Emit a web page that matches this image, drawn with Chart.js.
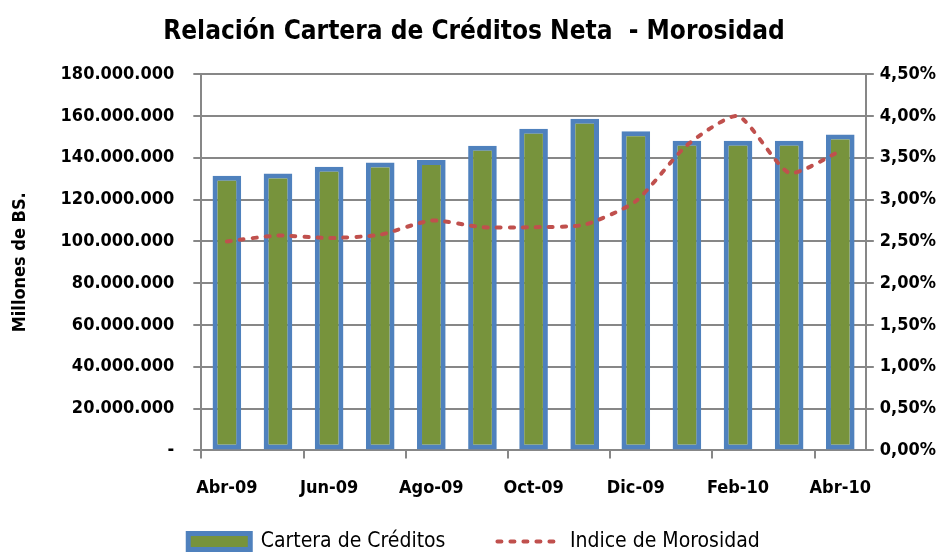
<!DOCTYPE html>
<html>
<head>
<meta charset="utf-8">
<script src="https://cdn.jsdelivr.net/npm/chart.js@4"></script>
<style>
  html, body { margin: 0; padding: 0; background: #fff; }
  #wrap { width: 946px; height: 552px; }
</style>
</head>
<body>
<div id="wrap"><canvas id="chart"></canvas></div>
<script>
const months = ['Abr-09', 'May-09', 'Jun-09', 'Jul-09', 'Ago-09', 'Sep-09', 'Oct-09',
  'Nov-09', 'Dic-09', 'Ene-10', 'Feb-10', 'Mar-10', 'Abr-10']
const cartera = [131400000, 132500000, 135700000, 137800000, 139000000, 145800000, 153900000,
  158700000, 152700000, 148200000, 148200000, 148200000, 151100000]
const morosidad = [2.50, 2.57, 2.54, 2.58, 2.75, 2.67, 2.67, 2.70, 2.98, 3.65, 4.00, 3.32, 3.58]

const FONT = "'Liberation Sans Narrow', 'DejaVu Sans Condensed', sans-serif"
const gridColor = '#878787'
const lineDash = [4, 9]

document.addEventListener('DOMContentLoaded', function () {
  new Chart(document.getElementById('chart'), {
    data: {
      labels: months,
      datasets: [
        {
          type: 'line',
          label: 'Indice de Morosidad',
          data: morosidad,
          yAxisID: 'y2',
          borderColor: '#C0504D',
          backgroundColor: '#C0504D',
          borderWidth: 4,
          borderDash: lineDash,
          borderCapStyle: 'round',
          tension: 0.2,
          pointRadius: 0,
          pointStyle: 'line',
          order: 0,
        },
        {
          type: 'bar',
          label: 'Cartera de Créditos',
          data: cartera,
          yAxisID: 'y',
          backgroundColor: '#77933C',
          borderColor: '#4F81BD',
          borderWidth: 5,
          borderSkipped: false,
          barPercentage: 0.56,
          categoryPercentage: 1,
          pointStyle: 'rect',
          order: 1,
        },
      ],
    },
    options: {
      responsive: true,
      maintainAspectRatio: false,
      animation: false,
      layout: { padding: { left: 6, right: 4, top: 4, bottom: -10 } },
      plugins: {
        title: {
          display: true,
          text: 'Relación Cartera de Créditos Neta  - Morosidad',
          color: '#000',
          font: { family: FONT, size: 26, weight: 'bold' },
          padding: { top: 13, bottom: 26 },
        },
        legend: {
          position: 'bottom',
          reverse: true,
          labels: {
            color: '#000',
            font: { family: FONT, size: 21 },
            usePointStyle: true,
            pointStyleWidth: 62,
            boxHeight: 16,
            padding: 4,
            generateLabels: (chart) => {
              const items = Chart.defaults.plugins.legend.labels.generateLabels(chart)
              items.forEach((it) => {
                if (it.datasetIndex === 1) it.text += '        '
                if (it.datasetIndex === 0) {
                  it.lineDash = lineDash
                  it.lineCap = 'round'
                  it.lineWidth = 4
                }
              })
              return items
            },
          },
        },
        tooltip: { enabled: false },
      },
      scales: {
        x: {
          offset: true,
          afterFit: (s) => { s.height += 9 },
          grid: {
            offset: true,
            drawOnChartArea: false,
            tickLength: 8,
            lineWidth: 2,
            color: (c) => (c.index % 2 === 0 ? gridColor : 'rgba(0,0,0,0)'),
          },
          border: { color: gridColor, width: 2 },
          ticks: {
            autoSkip: false,
            maxRotation: 0,
            color: '#000',
            padding: 19,
            font: { family: FONT, size: 18, weight: 'bold' },
            callback: (v, i) => (i % 2 === 0 ? months[i] : ''),
          },
        },
        y: {
          position: 'left',
          min: 0,
          max: 180000000,
          ticks: {
            stepSize: 20000000,
            color: '#000',
            padding: 19,
            font: { family: FONT, size: 18, weight: 'bold' },
            callback: (v) => (v === 0 ? '-' : v.toLocaleString('de-DE')),
          },
          grid: { color: gridColor, lineWidth: 2, tickLength: 8 },
          border: { color: gridColor, width: 2 },
          title: {
            display: true,
            text: 'Millones de BS.',
            color: '#000',
            padding: { top: 4, bottom: 10 },
            font: { family: FONT, size: 18, weight: 'bold' },
          },
        },
        y2: {
          position: 'right',
          min: 0,
          max: 4.5,
          ticks: {
            stepSize: 0.5,
            color: '#000',
            padding: 6,
            font: { family: FONT, size: 18, weight: 'bold' },
            callback: (v) => v.toFixed(2).replace('.', ',') + '%',
          },
          grid: { drawOnChartArea: false, color: gridColor, lineWidth: 2, tickLength: 8 },
          border: { color: gridColor, width: 2 },
        },
      },
    },
  })
})
</script>
</body>
</html>
